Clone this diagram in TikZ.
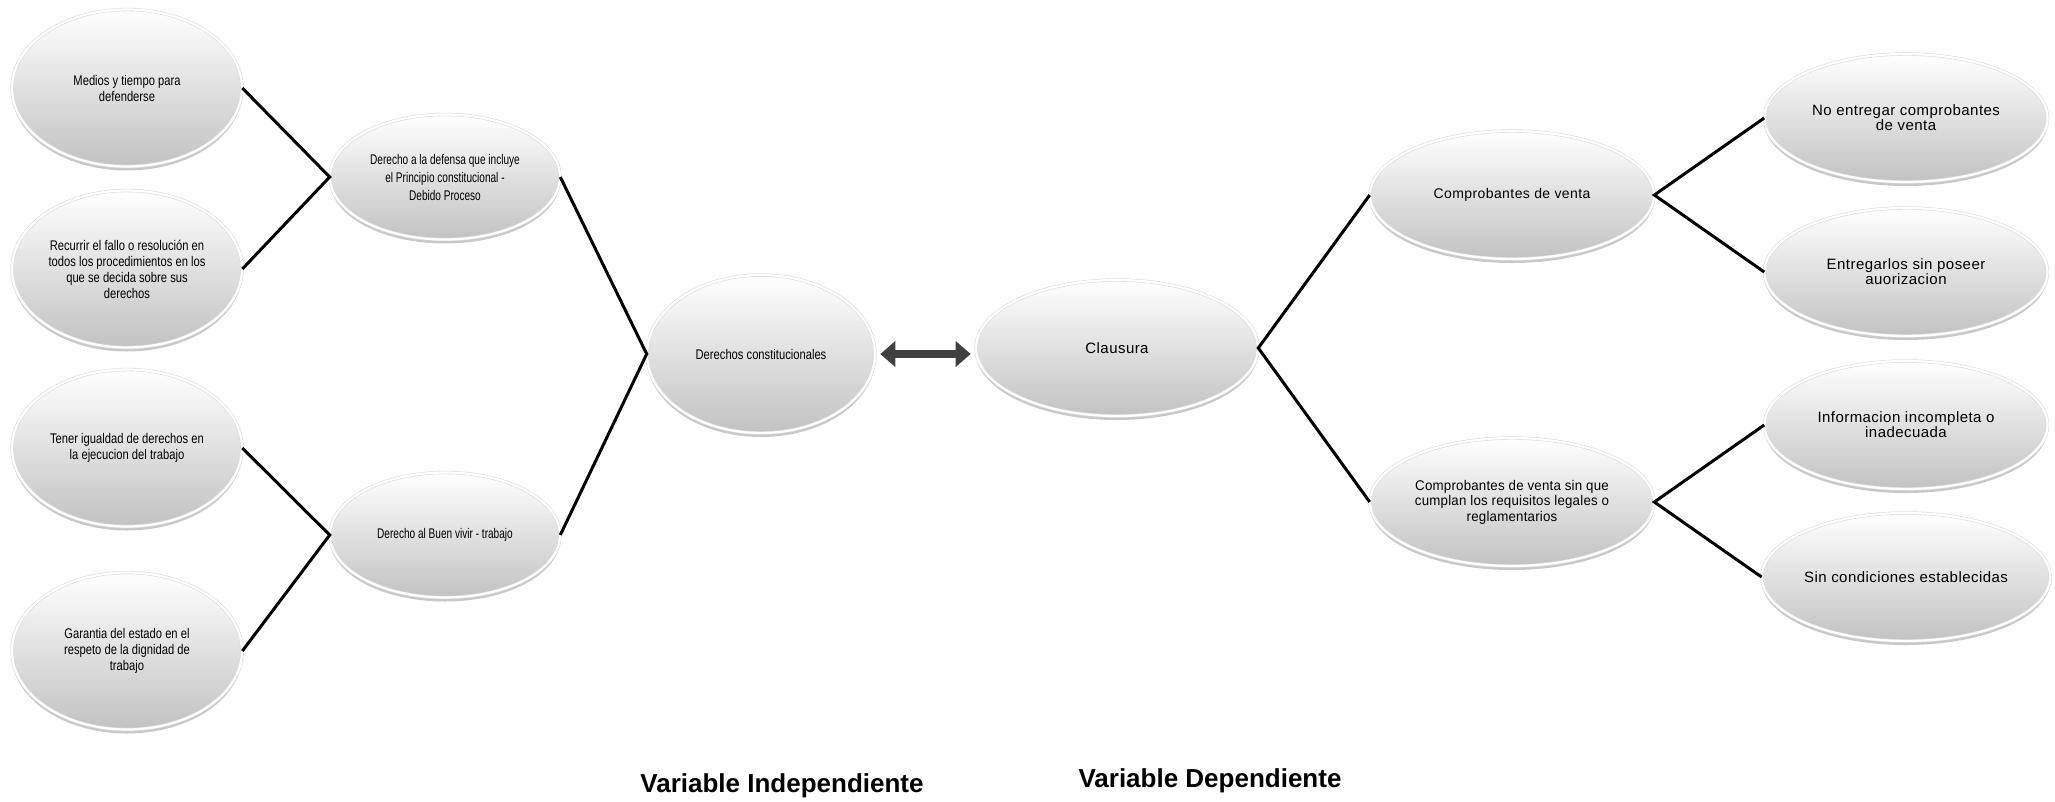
\documentclass[tikz,border=0pt]{standalone}
\usepackage{fontspec}
\setmainfont{Liberation Sans}
\newfontfamily\condA{Liberation Sans}[FakeStretch=0.8]
\newfontfamily\condB{Liberation Sans}[FakeStretch=0.72]
\newfontfamily\wideF{Liberation Sans}[LetterSpace=3]
\newfontfamily\midF{Liberation Sans}[LetterSpace=1.5,FakeStretch=0.95]
\usetikzlibrary{shapes.geometric,shadows,arrows.meta}
\begin{document}
\begin{tikzpicture}[x=1pt,y=-1pt,
  bub/.style={ellipse, inner sep=0pt, align=center, top color=white, bottom color=black!24,
    draw=black!14, line width=0.6pt, double=white, double distance=2.2pt,
    drop shadow={shadow xshift=0pt, shadow yshift=-4pt, opacity=0.3, fill=black!70}},
  bubE/.style={bub, minimum width=230pt, minimum height=157pt, font=\condA\fontsize{14}{16}\selectfont},
  bubM/.style={bub, minimum width=230pt, minimum height=125pt, font=\condB\fontsize{14}{18}\selectfont},
  bubC/.style={bub, minimum width=228pt, minimum height=158pt, font=\condA\fontsize{14}{16}\selectfont},
  bubK/.style={bub, minimum width=282pt, minimum height=136pt, font=\wideF\fontsize{15}{15}\selectfont},
  bubR/.style={bub, minimum width=284pt, minimum height=128pt, font=\wideF\fontsize{14}{15.5}\selectfont},
  bubRR/.style={bub, minimum width=284pt, minimum height=128pt, font=\midF\fontsize{14}{15.5}\selectfont},
  bubF/.style={bub, minimum width=283pt, minimum height=128pt, font=\wideF\fontsize{15}{15}\selectfont},
  link/.style={draw=black, line width=3pt, line join=miter},
  biarrow/.style={draw=black!75, line width=8pt, {Triangle[width=25pt,length=15pt]}-{Triangle[width=25pt,length=15pt]}, shorten <=5pt, shorten >=5pt},
  varlabel/.style={font=\bfseries\fontsize{26}{28}\selectfont}
]
\useasboundingbox (0,0) rectangle (2055,801);
\fill[white] (0,0) rectangle (2055,801);

% left column
\node[bubE] (e1) at (127,88) {Medios y tiempo para\\defenderse};
\node[bubE] (e2) at (127,269) {Recurrir el fallo o resolución en\\todos los procedimientos en los\\que se decida sobre sus\\derechos};
\node[bubE] (e3) at (127,448) {Tener igualdad de derechos en\\la ejecucion del trabajo};
\node[bubE] (e4) at (127,651) {Garantia del estado en el\\respeto de la dignidad de\\trabajo};

% middle column
\node[bubM] (m1) at (445,177) {Derecho a la defensa que incluye\\el Principio constitucional -\\Debido Proceso};
\node[bubM] (m2) at (445,535) {Derecho al Buen vivir - trabajo};

% centre
\node[bubC] (c1) at (761,354) {Derechos constitucionales};
\node[bubK] (c2) at (1117,348) {Clausura};

% right
\node[bubR] (r1) at (1512,195) {Comprobantes de venta};
\node[bubRR] (r2) at (1512,502) {Comprobantes de venta sin que\\cumplan los requisitos legales o\\reglamentarios};

\node[bubF] (f1) at (1906,118) {No entregar comprobantes\\de venta};
\node[bubF] (f2) at (1906,272) {Entregarlos sin  poseer\\auorizacion};
\node[bubF] (f3) at (1906,425) {Informacion incompleta o\\inadecuada};
\node[bubF] (f4) at (1906,577) {Sin condiciones establecidas};

% connectors
\draw[link] (e1.east) -- (m1.west) -- (e2.east);
\draw[link] (e3.east) -- (m2.west) -- (e4.east);
\draw[link] (m1.east) -- (c1.west) -- (m2.east);
\draw[link] (r1.west) -- (c2.east) -- (r2.west);
\draw[link] (f1.west) -- (r1.east) -- (f2.west);
\draw[link] (f3.west) -- (r2.east) -- (f4.west);
\draw[biarrow] (c1.east) -- (c1.east -| c2.west);

% labels
\node[varlabel] (vi) at (782,786) {Variable Independiente};
\node[varlabel] (vd) at (1210,781) {Variable Dependiente};
\end{tikzpicture}
\end{document}
